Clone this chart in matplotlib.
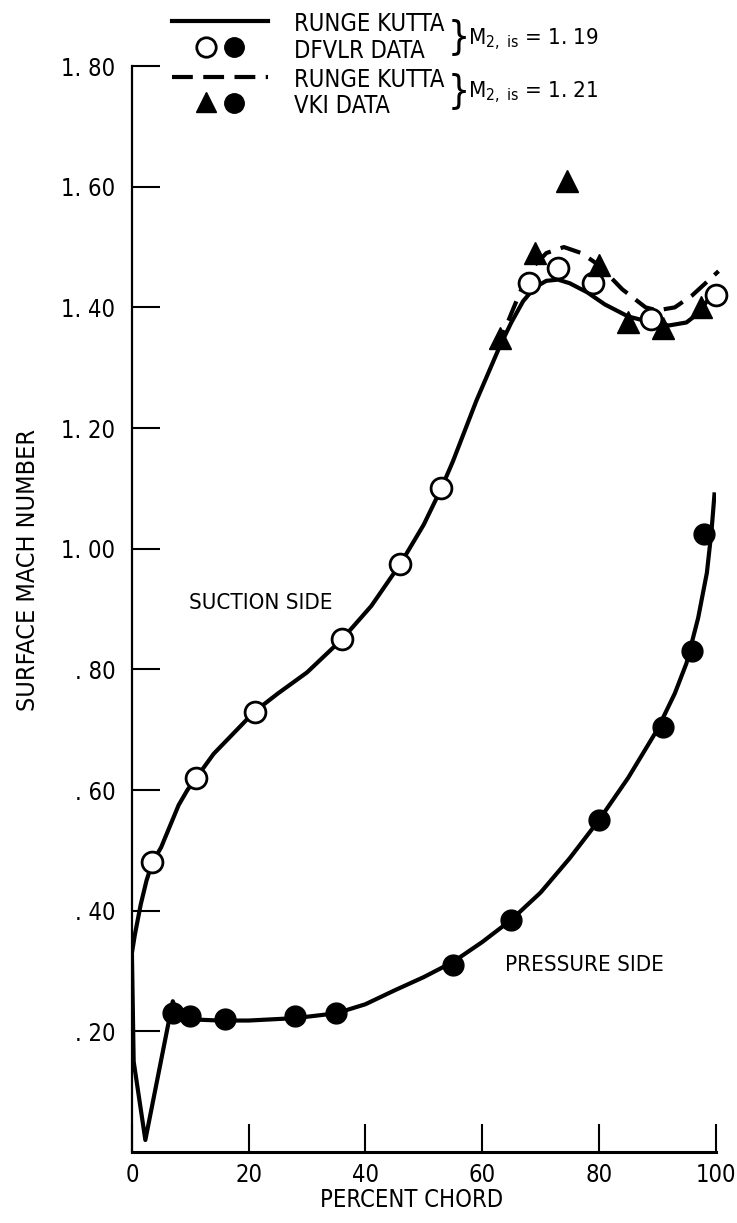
import matplotlib
matplotlib.use("Agg")
import matplotlib.pyplot as plt
from matplotlib.lines import Line2D

plt.rcParams['font.family'] = ['Liberation Sans Narrow', 'DejaVu Sans']
plt.rcParams['font.stretch'] = 'condensed'
plt.rcParams['mathtext.fontset'] = 'custom'
plt.rcParams['mathtext.rm'] = 'DejaVu Sans:stretch=condensed'

# DFVLR data, suction side (open circles), M2,is = 1.19
dfvlr_x = [3.5, 11, 21, 36, 46, 53, 68, 73, 79, 89, 100]
dfvlr_y = [0.48, 0.62, 0.73, 0.85, 0.975, 1.10, 1.44, 1.465, 1.44, 1.38, 1.42]

# VKI data, suction side (triangles), M2,is = 1.21
vki_x = [63, 69, 74.5, 80, 85, 91, 97.5]
vki_y = [1.35, 1.49, 1.61, 1.47, 1.375, 1.365, 1.40]

# pressure side data (filled circles)
ps_x = [7, 10, 16, 28, 35, 55, 65, 80, 91, 96, 98]
ps_y = [0.23, 0.225, 0.22, 0.225, 0.23, 0.31, 0.385, 0.55, 0.705, 0.83, 1.025]

# Runge Kutta, M2,is = 1.19, suction side
rk_ss_x = [0, 0.5, 1.5, 2.5, 3.5, 5, 6.5, 8, 9.5, 11, 14, 18, 21, 25, 30, 36, 41,
           46, 50, 53, 55, 57, 59, 61, 63, 65, 67, 69, 71, 73, 75, 78, 81, 85, 89,
           92, 95, 97, 100]
rk_ss_y = [0.33, 0.36, 0.41, 0.45, 0.48, 0.505, 0.54, 0.575, 0.60, 0.62, 0.66,
           0.70, 0.73, 0.76, 0.795, 0.85, 0.905, 0.975, 1.04, 1.10, 1.145, 1.195,
           1.245, 1.29, 1.335, 1.375, 1.41, 1.433, 1.444, 1.446, 1.44, 1.425,
           1.405, 1.385, 1.375, 1.37, 1.375, 1.39, 1.43]

# Runge Kutta, M2,is = 1.19, pressure side
rk_ps_x = [0, 0.3, 2.3, 7, 8, 10, 15, 20, 28, 35, 40, 45, 50, 55, 60, 65, 70, 75,
           80, 85, 90, 93, 95, 97, 98.5, 99.3, 99.8]
rk_ps_y = [0.33, 0.15, 0.02, 0.25, 0.225, 0.22, 0.218, 0.218, 0.222, 0.23, 0.245,
           0.268, 0.29, 0.315, 0.348, 0.385, 0.43, 0.487, 0.55, 0.62, 0.70, 0.76,
           0.81, 0.885, 0.96, 1.03, 1.09]

# Runge Kutta, M2,is = 1.21 (dashed), where it departs from the solid curve
rk21_x = [62.5, 65, 68, 71, 74, 77, 80, 84, 88, 90, 93, 96, 100.5]
rk21_y = [1.33, 1.39, 1.46, 1.49, 1.50, 1.49, 1.47, 1.43, 1.40, 1.395, 1.40, 1.42, 1.46]

yticks = [0.2, 0.4, 0.6, 0.8, 1.0, 1.2, 1.4, 1.6, 1.8]
ytick_labels = [". 20", ". 40", ". 60", ". 80", "1. 00", "1. 20", "1. 40", "1. 60", "1. 80"]
xticks = [0, 20, 40, 60, 80, 100]

fig = plt.figure(figsize=(7.37, 12.23), dpi=100)
ax = fig.add_axes([0.179, 0.058, 0.792, 0.888])

lw = 3.0
ax.plot(rk_ss_x, rk_ss_y, color="black", lw=lw, zorder=2)
ax.plot(rk_ps_x, rk_ps_y, color="black", lw=lw, zorder=2)
ax.plot(rk21_x, rk21_y, color="black", lw=lw, ls=(0, (5, 2.5)), zorder=2, clip_on=False)

ax.plot(dfvlr_x, dfvlr_y, "o", ms=15, mfc="white", mec="black", mew=2, zorder=3, clip_on=False)
ax.plot(vki_x, vki_y, "^", ms=16, color="black", zorder=3, clip_on=False)
ax.plot(ps_x, ps_y, "o", ms=15, color="black", zorder=3, clip_on=False)

ax.set_xlim(0, 100)
ax.set_ylim(0, 1.8)
ax.spines["top"].set_visible(False)
ax.spines["right"].set_visible(False)
ax.spines["left"].set_linewidth(1.6)
ax.spines["bottom"].set_linewidth(2.2)
ax.set_yticks(yticks)
ax.set_yticklabels(ytick_labels)
ax.set_xticks(xticks)
ax.tick_params(direction="in", length=20, width=1.5, labelsize=17)
ax.tick_params(axis="y", pad=12)
ax.tick_params(axis="x", pad=8)

fig.text(412 / 737, 1 - 1200 / 1223, "PERCENT CHORD", fontsize=17, ha="center", va="center")
fig.text(28 / 737, 1 - 570 / 1223, "SURFACE MACH NUMBER", fontsize=18, ha="center",
         va="center", rotation=90)

ax.text(9.7, 0.91, "SUCTION SIDE", fontsize=16, va="center")
ax.text(64, 0.31, "PRESSURE SIDE", fontsize=16, va="center")

# legend above the axes, drawn by hand like the original
def fy(py):
    return 1 - py / 1223


def fx(px):
    return px / 737


fig.add_artist(Line2D([fx(172), fx(268)], [fy(21), fy(21)], color="black", lw=lw))
fig.add_artist(Line2D([fx(206)], [fy(47)], marker="o", ms=14, mfc="white", mec="black", mew=2))
fig.add_artist(Line2D([fx(234)], [fy(47)], marker="o", ms=14, color="black"))
fig.add_artist(Line2D([fx(172), fx(268)], [fy(77), fy(77)], color="black", lw=lw,
                      ls=(0, (5, 2.5))))
fig.add_artist(Line2D([fx(206)], [fy(102)], marker="^", ms=15, color="black"))
fig.add_artist(Line2D([fx(234)], [fy(103)], marker="o", ms=14, color="black"))

legend_rows = ["RUNGE KUTTA", "DFVLR DATA", "RUNGE KUTTA", "VKI DATA"]
legend_y = [24, 51, 80, 106]
for label, py in zip(legend_rows, legend_y):
    fig.text(fx(294), fy(py), label, fontsize=17, va="center")

fig.text(fx(448), fy(37), "}", fontsize=28, va="center")
fig.text(fx(468), fy(40), r"M$_{2,\ \mathrm{is}}$ = 1. 19", fontsize=16, va="center")
fig.text(fx(448), fy(91), "}", fontsize=28, va="center")
fig.text(fx(468), fy(93), r"M$_{2,\ \mathrm{is}}$ = 1. 21", fontsize=16, va="center")

fig.savefig("out.png", dpi=100)
